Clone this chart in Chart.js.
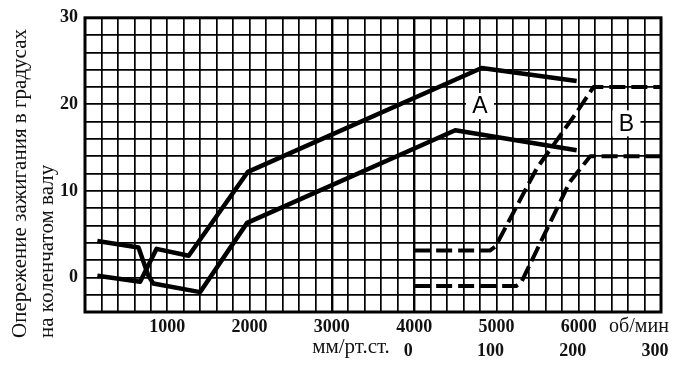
<!DOCTYPE html>
<html>
<head>
<meta charset="utf-8">
<script src="https://cdn.jsdelivr.net/npm/chart.js@4/dist/chart.umd.min.js"></script>
<style>
  html, body { margin: 0; padding: 0; background: #fff; }
  #wrap { width: 680px; height: 367px; position: relative; }
</style>
</head>
<body>
<div id="wrap"><canvas id="chart"></canvas></div>
<script>
// engine speed curves (об/мин -> degrees)
var rpmLower = [150, 650, 770, 830, 1400, 1970, 4500, 5975];
var advLower = [4.2, 3.45, 0.2, -0.7, -1.7, 6.3, 17.0, 14.7];

var rpmUpper = [150, 670, 870, 1260, 1980, 4820, 5975];
var advUpper = [0.2, -0.5, 3.3, 2.5, 12.2, 24.2, 22.7];

// vacuum curves (мм/рт.ст. -> degrees)
var vacUpper = [0, 92, 99, 149, 197, 218, 300];
var advVacUpper = [3.1, 3.1, 3.6, 12.6, 19.0, 22.0, 22.0];

var vacLower = [0, 124, 130, 189, 214, 300];
var advVacLower = [-1.0, -1.0, -0.6, 11.0, 14.0, 14.0];

// tick labels
var rpmLabels = [1000, 2000, 3000, 4000, 5000, 6000];
var vacLabels = [0, 100, 200, 300];
var advLabels = [0, 10, 20, 30];

// curve names and where they sit
var curveNames = ["A", "B"];
var namePosRpm = [4800, 6580];
var namePosAdv = [19.8, 17.8];

function toPoints(xs, ys) {
    return xs.map(function (x, i) { return { x: x, y: ys[i] }; });
}

var serif = "'Liberation Serif', 'DejaVu Serif', serif";

var solid = {
    borderColor: "#000",
    borderWidth: 4.5,
    pointRadius: 0,
    fill: false,
    tension: 0,
    borderJoinStyle: "round",
    borderCapStyle: "butt"
};

function line(data, extra) {
    return Object.assign({ data: data }, solid, extra || {});
}

var framePlugin = {
    id: "frame",
    beforeDatasetsDraw: function (chart) {
        var a = chart.chartArea, ctx = chart.ctx;
        ctx.save();
        ctx.strokeStyle = "#000";
        ctx.lineWidth = 3;
        ctx.strokeRect(a.left, a.top, a.right - a.left, a.bottom - a.top);
        ctx.restore();
    },
    afterDatasetsDraw: function (chart) {
        var ctx = chart.ctx, xs = chart.scales.x, ys = chart.scales.y;
        ctx.save();
        ctx.font = "23px 'Liberation Sans', Arial, sans-serif";
        ctx.textAlign = "center";
        ctx.textBaseline = "middle";
        curveNames.forEach(function (name, i) {
            var px = xs.getPixelForValue(namePosRpm[i]);
            var py = ys.getPixelForValue(namePosAdv[i]);
            ctx.fillStyle = "#fff";
            ctx.fillRect(px - 14, py - 13, 28, 26);
            ctx.fillStyle = "#000";
            ctx.fillText(name, px, py + 1);
        });
        ctx.restore();
    },
    afterDraw: function (chart) {
        var ctx = chart.ctx;
        ctx.save();
        ctx.fillStyle = "#111";
        ctx.textBaseline = "middle";
        ctx.textAlign = "center";
        ctx.font = "20px " + serif;
        ctx.fillText("об/мин", 639, 327);
        ctx.font = "21px " + serif;
        ctx.fillText("мм/рт.ст.", 351, 347);

        // y axis title, two rotated lines starting from the bottom
        ctx.font = "21px " + serif;
        ctx.textAlign = "left";
        ctx.translate(20, 338);
        ctx.rotate(-Math.PI / 2);
        ctx.fillText("Опережение зажигания в градусах", 0, 0);
        ctx.fillText("на коленчатом валу", 0, 27);
        ctx.restore();
    }
};

new Chart(document.getElementById("chart"), {
    type: "line",
    data: {
        datasets: [
            line(toPoints(rpmLower, advLower)),
            line(toPoints(rpmUpper, advUpper)),
            line(toPoints(vacUpper, advVacUpper), { xAxisID: "x2", borderWidth: 4, borderDash: [16, 6] }),
            line(toPoints(vacLower, advVacLower), { xAxisID: "x2", borderWidth: 4, borderDash: [16, 6] })
        ]
    },
    options: {
        responsive: true,
        maintainAspectRatio: false,
        animation: false,
        layout: { padding: { top: 14, right: 19, left: 0, bottom: 0 } },
        plugins: { legend: { display: false }, tooltip: { enabled: false } },
        scales: {
            x: {
                type: "linear",
                position: "bottom",
                min: 0,
                max: 7000,
                afterFit: function (s) { s.height = 28; },
                grid: {
                    color: "#000",
                    drawTicks: false,
                    lineWidth: function (c) {
                        return (c.tick && (c.tick.value === 3000 || c.tick.value === 4000)) ? 2.4 : 1.7;
                    }
                },
                border: { display: false },
                ticks: {
                    stepSize: 200,
                    autoSkip: false,
                    maxRotation: 0,
                    padding: 5,
                    color: "#111",
                    font: { family: serif, size: 18, weight: "bold" },
                    callback: function (v) { return rpmLabels.indexOf(v) >= 0 ? String(v) : ""; }
                }
            },
            x2: {
                type: "linear",
                position: "bottom",
                min: -400,
                max: 300,
                afterFit: function (s) { s.height = 27; },
                grid: { display: false, drawTicks: false },
                border: { display: false },
                ticks: {
                    stepSize: 100,
                    autoSkip: false,
                    maxRotation: 0,
                    padding: 1,
                    labelOffset: -6,
                    color: "#111",
                    font: { family: serif, size: 18, weight: "bold" },
                    callback: function (v) { return vacLabels.indexOf(v) >= 0 ? String(v) : ""; }
                }
            },
            y: {
                type: "linear",
                min: -4,
                max: 30,
                afterFit: function (s) { s.width = 85; },
                grid: { color: "#000", lineWidth: 1.7, drawTicks: false },
                border: { display: false },
                ticks: {
                    stepSize: 2,
                    autoSkip: false,
                    padding: 7,
                    color: "#111",
                    font: { family: serif, size: 18, weight: "bold" },
                    callback: function (v) { return advLabels.indexOf(v) >= 0 ? String(v) : ""; }
                }
            }
        }
    },
    plugins: [framePlugin]
});
</script>
</body>
</html>
